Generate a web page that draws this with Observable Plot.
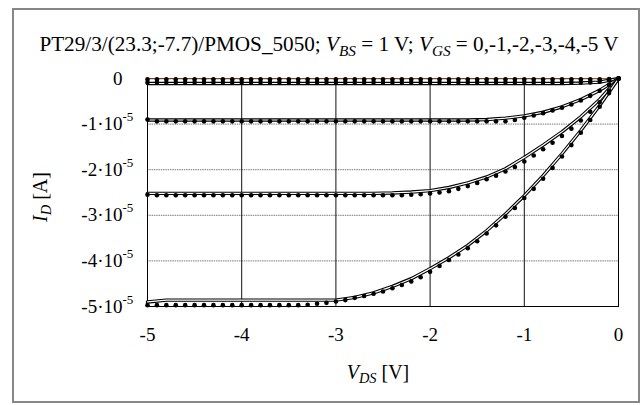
<!DOCTYPE html>
<html><head><meta charset="utf-8">
<script src="https://cdn.jsdelivr.net/npm/d3@7"></script>
<script src="https://cdn.jsdelivr.net/npm/@observablehq/plot@0.6"></script>
<style>
body{margin:0;background:#fff;}
#wrap{position:relative;width:644px;height:405px;font-family:"Liberation Serif","Times New Roman",serif;color:#000;overflow:hidden;}
#border{position:absolute;left:12px;top:8px;width:628px;height:395px;box-sizing:border-box;border:2px solid #878787;}
#chart{position:absolute;left:0;top:0;}
.lbl{position:absolute;white-space:nowrap;line-height:1;}
#title{left:0;width:658px;top:34px;text-align:center;font-size:21.2px;}
#xlab{left:0;width:756px;top:362px;text-align:center;font-size:20px;}
#ylab{left:40px;top:197px;font-size:20px;transform:translate(-50%,-50%) rotate(-90deg);}
sub{font-size:0.72em;vertical-align:baseline;position:relative;top:0.3em;}
svg text, svg tspan{font-family:"Liberation Serif","Times New Roman",serif !important;}
</style></head>
<body>
<div id="wrap">
<div id="chart"></div>
<div id="border"></div>
<div class="lbl" id="title">PT29/3/(23.3;-7.7)/PMOS_5050; <i>V<sub>BS</sub></i> = 1 V; <i>V<sub>GS</sub></i> = 0,-1,-2,-3,-4,-5 V</div>
<div class="lbl" id="xlab"><i>V<sub>DS</sub></i> [V]</div>
<div class="lbl" id="ylab"><i>I<sub>D</sub></i> [A]</div>
</div>
<script>
// Drain voltage V_DS [V], measurement points
const vds = [-5.0,-4.9,-4.8,-4.7,-4.6,-4.5,-4.4,-4.3,-4.2,-4.1,-4.0,-3.9,-3.8,-3.7,-3.6,-3.5,-3.4,-3.3,-3.2,-3.1,-3.0,-2.9,-2.8,-2.7,-2.6,-2.5,-2.4,-2.3,-2.2,-2.1,-2.0,-1.9,-1.8,-1.7,-1.6,-1.5,-1.4,-1.3,-1.2,-1.1,-1.0,-0.9,-0.8,-0.7,-0.6,-0.5,-0.4,-0.3,-0.2,-0.1,0.0];
// Measured I_D in units of 1e-5 A
const meas_vgs0 = [-0.02,-0.02,-0.02,-0.02,-0.02,-0.02,-0.02,-0.02,-0.02,-0.02,-0.02,-0.02,-0.02,-0.02,-0.02,-0.02,-0.02,-0.02,-0.02,-0.02,-0.02,-0.02,-0.02,-0.02,-0.02,-0.02,-0.02,-0.02,-0.02,-0.02,-0.02,-0.02,-0.02,-0.02,-0.02,-0.02,-0.02,-0.02,-0.02,-0.02,-0.02,-0.02,-0.02,-0.02,-0.02,-0.02,-0.02,-0.02,-0.015,-0.01,0];
const meas_vgs1 = [-0.09,-0.09,-0.09,-0.09,-0.09,-0.09,-0.09,-0.09,-0.09,-0.09,-0.09,-0.09,-0.09,-0.09,-0.09,-0.09,-0.09,-0.09,-0.09,-0.09,-0.09,-0.09,-0.09,-0.09,-0.09,-0.09,-0.09,-0.09,-0.09,-0.09,-0.09,-0.09,-0.09,-0.09,-0.09,-0.09,-0.09,-0.09,-0.09,-0.09,-0.09,-0.09,-0.09,-0.09,-0.09,-0.09,-0.09,-0.085,-0.07,-0.04,0];
const meas_vgs2 = [-0.90,-0.94,-0.94,-0.94,-0.94,-0.94,-0.94,-0.94,-0.94,-0.94,-0.94,-0.94,-0.94,-0.94,-0.94,-0.94,-0.94,-0.94,-0.94,-0.94,-0.94,-0.94,-0.94,-0.94,-0.94,-0.94,-0.94,-0.94,-0.94,-0.94,-0.94,-0.94,-0.94,-0.94,-0.94,-0.94,-0.94,-0.94,-0.94,-0.91,-0.86,-0.81,-0.76,-0.70,-0.64,-0.57,-0.48,-0.38,-0.27,-0.14,0];
const meas_vgs3 = [-2.55,-2.56,-2.56,-2.56,-2.56,-2.56,-2.56,-2.56,-2.56,-2.56,-2.56,-2.56,-2.56,-2.56,-2.56,-2.56,-2.56,-2.56,-2.56,-2.56,-2.56,-2.56,-2.56,-2.56,-2.56,-2.56,-2.56,-2.56,-2.55,-2.54,-2.52,-2.50,-2.47,-2.42,-2.36,-2.29,-2.21,-2.13,-2.04,-1.94,-1.82,-1.69,-1.55,-1.41,-1.26,-1.10,-0.92,-0.73,-0.52,-0.27,0];
const meas_vgs4 = [-4.97,-4.97,-4.97,-4.97,-4.97,-4.97,-4.97,-4.97,-4.97,-4.97,-4.97,-4.97,-4.97,-4.97,-4.97,-4.97,-4.97,-4.96,-4.94,-4.92,-4.89,-4.86,-4.81,-4.77,-4.72,-4.67,-4.60,-4.53,-4.45,-4.36,-4.24,-4.11,-3.98,-3.86,-3.72,-3.57,-3.40,-3.22,-3.03,-2.84,-2.62,-2.42,-2.20,-1.96,-1.71,-1.46,-1.19,-0.91,-0.62,-0.32,0];
// Simulated I_D (units of 1e-5 A)
const vsim = [-5.0,-4.8,-4.6,-4.4,-4.2,-4.0,-3.8,-3.6,-3.4,-3.2,-3.0,-2.8,-2.6,-2.4,-2.2,-2.0,-1.8,-1.6,-1.4,-1.2,-1.0,-0.8,-0.6,-0.4,-0.2,0.0];
const sim_vgs0 = [-0.005,-0.005,-0.005,-0.005,-0.005,-0.005,-0.005,-0.005,-0.005,-0.005,-0.005,-0.005,-0.005,-0.005,-0.005,-0.005,-0.005,-0.005,-0.005,-0.005,-0.005,-0.005,-0.005,-0.005,-0.004,0];
const sim_vgs1 = [-0.11,-0.11,-0.11,-0.11,-0.11,-0.11,-0.11,-0.11,-0.11,-0.11,-0.11,-0.11,-0.11,-0.11,-0.11,-0.11,-0.11,-0.11,-0.11,-0.11,-0.11,-0.11,-0.11,-0.10,-0.08,0];
const sim_vgs2 = [-0.91,-0.91,-0.91,-0.91,-0.91,-0.91,-0.91,-0.91,-0.91,-0.91,-0.91,-0.91,-0.91,-0.91,-0.91,-0.91,-0.91,-0.91,-0.90,-0.87,-0.82,-0.74,-0.62,-0.46,-0.26,0];
const sim_vgs3 = [-2.52,-2.52,-2.52,-2.52,-2.52,-2.52,-2.52,-2.52,-2.52,-2.52,-2.52,-2.52,-2.52,-2.51,-2.49,-2.46,-2.39,-2.29,-2.16,-1.98,-1.73,-1.46,-1.17,-0.84,-0.46,0];
const sim_vgs4 = [-4.90,-4.86,-4.86,-4.86,-4.86,-4.86,-4.86,-4.86,-4.86,-4.86,-4.86,-4.80,-4.70,-4.56,-4.39,-4.17,-3.93,-3.66,-3.34,-2.97,-2.57,-2.13,-1.65,-1.14,-0.59,0];
// Axis ticks
const xTicks = [-5,-4,-3,-2,-1,0];
const yTicks = [0,-1,-2,-3,-4,-5];
const yGrid = [-1,-2,-3,-4];
const xGrid = [-4,-3,-2,-1];
const yExp = "-5";
const serif = "Liberation Serif";

const measured = [meas_vgs0, meas_vgs1, meas_vgs2, meas_vgs3, meas_vgs4].map(a => vds.map((v,i)=>({v, id:a[i]})));
const simulated = [sim_vgs1, sim_vgs2, sim_vgs3, sim_vgs4].map(a => vsim.map((v,i)=>({v, id:a[i]})));
const sim0 = vsim.map((v,i)=>({v, id:sim_vgs0[i]}));

const marks = [
  Plot.ruleY(yGrid, {stroke:"#7a7a7a", strokeWidth:1, strokeDasharray:"1.5,0.8"}),
  Plot.ruleX(xGrid, {stroke:"#111", strokeWidth:1}),
  Plot.frame({stroke:"#000", strokeWidth:1}),
  Plot.line(sim0, {x:"v", y:"id", stroke:"#9a5a30", strokeWidth:1.2})
];
for (const s of simulated) {
  marks.push(Plot.line(s, {x:"v", y:"id", stroke:"#000", strokeWidth:3.4}));
  marks.push(Plot.line(s, {x:"v", y:"id", stroke:"#fff", strokeWidth:1.2}));
}
for (const m of measured) {
  marks.push(Plot.dot(m, {x:"v", y:"id", r:2.3, fill:"#000", stroke:"none"}));
}
marks.push(Plot.axisX(xTicks, {tickSize:0, tickPadding:21, fontSize:19, fontFamily:serif, tickFormat:d=>`${d}`, label:null}));
marks.push(Plot.axisY(yTicks, {tickSize:0, tickPadding:25, fontSize:19, fontFamily:serif, tickFormat:d=> d===0 ? "0" : `${d}·10`, label:null}));

const chart = Plot.plot({
  width:644, height:405,
  marginLeft:147, marginRight:26, marginTop:78, marginBottom:99,
  style:{fontFamily:"'Liberation Serif', serif", fontSize:"19px", background:"transparent", color:"#000", overflow:"visible"},
  x:{domain:[-5,0]},
  y:{domain:[-5,0]},
  marks
});
document.getElementById("chart").appendChild(chart);

// add exponent superscripts to y tick labels
const svgns = "http://www.w3.org/2000/svg";
chart.querySelectorAll('g[aria-label="y-axis tick label"] text').forEach(t => {
  const s = t.textContent;
  if (s === "0") return;
  t.textContent = "";
  const main = document.createElementNS(svgns, "tspan");
  main.textContent = s;
  t.appendChild(main);
  const sup = document.createElementNS(svgns, "tspan");
  sup.setAttribute("x", t.getAttribute("x") || 0);
  sup.setAttribute("dy", "-9");
  sup.setAttribute("text-anchor", "start");
  sup.setAttribute("font-size", "13");
  sup.textContent = yExp;
  t.appendChild(sup);
});
</script>
</body></html>
